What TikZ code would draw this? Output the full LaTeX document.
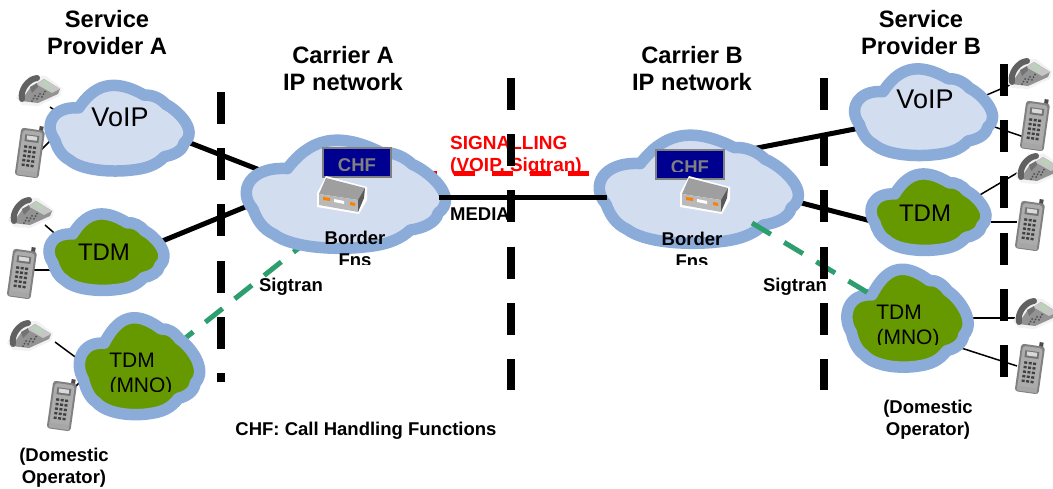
\documentclass[tikz,border=0pt]{standalone}
\usepackage{fontspec}
\setmainfont{Liberation Sans}
\definecolor{cloudedge}{HTML}{8BABD9}
\definecolor{cloudlight}{HTML}{D3DDF0}
\definecolor{cloudgreen}{HTML}{669900}
\definecolor{sigred}{HTML}{FF0000}
\definecolor{siggreen}{HTML}{2E9E6E}
\definecolor{chfblue}{HTML}{000090}
\tikzset{
  x=1pt,y=-1pt,
  cloudpic/.pic={
    \path[draw=cloudedge,line width=11.5pt,fill=#1,line join=round]
      (-0.96,0.28)
      .. controls (-1.12,-0.05) and (-1.0,-0.52) .. (-0.60,-0.48)
      .. controls (-0.38,-1.0) and (-0.10,-1.22) .. (0.38,-0.78)
      .. controls (0.5,-0.80) and (0.62,-0.70) .. (0.70,-0.56)
      .. controls (0.85,-0.45) and (1.2,0.05) .. (0.97,0.36)
      .. controls (0.95,0.55) and (0.80,0.65) .. (0.68,0.68)
      .. controls (0.55,0.90) and (0.38,0.97) .. (0.20,1.0)
      .. controls (-0.1,1.06) and (-0.55,1.02) .. (-0.74,0.76)
      .. controls (-0.86,0.66) and (-0.92,0.48) .. cycle;
  },
  deskphone/.pic={
    \fill[white!90!gray] (-22,8) -- (-9,-14) -- (8,-14) -- (24,-2) -- (22,6) -- (0,16) -- (-16,15) -- cycle;
    \fill[gray!85] (-17,11) -- (-8,-2) -- (6,-11) -- (22,-1) -- (20,4) -- (0,13) -- cycle;
    \fill[gray!45] (-2,-6) -- (6,-11) -- (22,-1) -- (14,3) -- cycle;
    \fill[green!25!gray!45] (3,-7) -- (7,-9) -- (14,-4) -- (10,-2) -- cycle;
    \draw[black!62,line width=6pt,line cap=round] (-16,9) .. controls (-18,0) and (-10,-11) .. (-1,-12);
    \fill[black!55] (-8,-3) -- (-1,-7) -- (0,-3) -- (-6,3) -- cycle;
    \foreach \i in {0,1,2} \foreach \j in {0,1,2}
      \fill[black!70] (-3+5*\i-1.5*\j,6-2.2*\i+2.6*\j) circle[radius=1];
  },
  mobilephone/.pic={
    \begin{scope}[rotate=-8]
      \fill[black!70] (6,-27) rectangle (10,-21);
      \fill[black!50,rounded corners=3pt] (-12,-23) rectangle (12,25);
      \fill[gray!65,rounded corners=3pt] (-10,-21) rectangle (10,23);
      \fill[black!55] (-7,-17) rectangle (7,-10);
      \fill[gray!30] (-5,-16) rectangle (5,-12);
      \foreach \i in {0,1,2} \foreach \j in {0,1,2,3,4}
        \fill[black!75] (-6.5+4.5*\i,-6+4.6*\j) rectangle ++(3,2.4);
      \fill[black!35] (-10,19) rectangle (10,24);
    \end{scope}
  },
  routerpic/.pic={
    \fill[white] (-16,-19) -- (25,-8) -- (25,5) -- (17,19) -- (-25,12) -- (-25,-2) -- cycle;
    \fill[gray!75] (-16,-17) -- (23,-7) -- (16,5) -- (-23,-1) -- cycle;
    \fill[gray!55] (-23,-1) -- (16,5) -- (16,17) -- (-23,10) -- cycle;
    \fill[black!65] (23,-7) -- (16,5) -- (16,17) -- (22,3) -- cycle;
    \fill[orange] (-19,2) -- (-12,3) -- (-12,6) -- (-19,5) -- cycle;
    \fill[white] (-8,4) -- (2,6) -- (2,9) -- (-8,7) -- cycle;
    \fill[orange] (8,7) -- (13,8) -- (13,11) -- (8,10) -- cycle;
  },
  cloudnode/.style={inner sep=0pt,minimum size=10pt},
  phonenode/.style={inner sep=0pt,minimum width=30pt,minimum height=30pt},
  thinlink/.style={black,line width=1.5pt},
  thicklink/.style={black,line width=5pt},
  barrier/.style={black,line width=8pt,dash pattern=on 32pt off 24.2pt},
  greenlink/.style={siggreen,line width=5pt,dash pattern=on 22pt off 15.5pt},
  redlink/.style={sigred,line width=5pt,dash pattern=on 21pt off 17pt},
  titletext/.style={font=\fontsize{23.7}{27}\selectfont\bfseries,align=center,inner sep=0pt},
  cloudtext/.style={inner sep=0pt},
  labeltext/.style={font=\fontsize{18.5}{22}\selectfont\bfseries,inner sep=0pt,align=center},
  chfbox/.style={draw=gray,line width=2pt,fill=chfblue,minimum width=68pt,minimum height=29pt,inner sep=0pt},
}
\begin{document}
\begin{tikzpicture}
\useasboundingbox (0,0) rectangle (1053,489);

% anchors of clouds
\node[cloudnode] (vA) at (119,128) {};
\node[cloudnode] (tA) at (106,252) {};
\node[cloudnode] (mA) at (139,366) {};
\node[cloudnode] (cA) at (345,194) {};
\node[cloudnode] (cB) at (698,189) {};
\node[cloudnode] (vB) at (923,112) {};
\node[cloudnode] (tB) at (928,212) {};
\node[cloudnode] (mB) at (907,318) {};

% telephones
\node[phonenode] (dA1) at (38,90) {};
\node[phonenode] (mobA1) at (30,152) {};
\node[phonenode] (dA2) at (30,212) {};
\node[phonenode] (mobA2) at (22,273) {};
\node[phonenode] (dA3) at (29,335) {};
\node[phonenode] (mobA3) at (62,405) {};
\node[phonenode] (dB1) at (1028,73) {};
\node[phonenode] (mobB1) at (1035,125) {};
\node[phonenode] (dB2) at (1037,168) {};
\node[phonenode] (mobB2) at (1030,225) {};
\node[phonenode] (dB3) at (1035,313) {};
\node[phonenode] (mobB3) at (1030,368) {};

% thin access links
\draw[thinlink] ([shift={(12,17)}]dA1.center) -- ([shift={(-59,-14)}]vA.center);
\draw[thinlink] ([shift={(8,1)}]mobA1.center) -- ([shift={(-60,4)}]vA.center);
\draw[thinlink] ([shift={(15,13)}]dA2.center) -- ([shift={(-46,-14)}]tA.center);
\draw[thinlink] ([shift={(10,-3)}]mobA2.center) -- ([shift={(-40,18)}]tA.center);
\draw[thinlink] ([shift={(26,7)}]dA3.center) -- ([shift={(-57,-4)}]mA.center);
\draw[thinlink] ([shift={(8,-13)}]mobA3.center) -- ([shift={(-52,9)}]mA.center);
\draw[thinlink] ([shift={(-18,12)}]dB1.center) -- ([shift={(59,-15)}]vB.center);
\draw[thinlink] ([shift={(-11,12)}]mobB1.center) -- ([shift={(60,11)}]vB.center);
\draw[thinlink] ([shift={(-20,5)}]dB2.center) -- ([shift={(45,-13)}]tB.center);
\draw[thinlink] ([shift={(-13,-3)}]mobB2.center) -- ([shift={(63,10)}]tB.center);
\draw[thinlink] ([shift={(-18,5)}]dB3.center) -- ([shift={(53,0)}]mB.center);
\draw[thinlink] ([shift={(-13,-2)}]mobB3.center) -- ([shift={(48,28)}]mB.center);

% links that pass under the clouds
\draw[thicklink] ([shift={(61,11)}]vA.center) -- ([shift={(-70,-18)}]cA.center);
\draw[thicklink] ([shift={(49,-8)}]tA.center) -- ([shift={(-90,9)}]cA.center);
\draw[thicklink] ([shift={(54,-40)}]cB.center) -- ([shift={(-63,16)}]vB.center);
\draw[thicklink] ([shift={(92,11)}]cB.center) -- ([shift={(-53,10)}]tB.center);
\draw[greenlink] ([shift={(37,-20.5)}]mA.center) -- ([shift={(-45,53)}]cA.center);
\draw[redlink] ([shift={(71,-20)}]cA.center) -- ([shift={(-108,-15)}]cB.center);

% clouds
\pic[xscale=67,yscale=42] at (vA) {cloudpic=cloudlight};
\pic[xscale=55.5,yscale=37.5] at (tA) {cloudpic=cloudgreen};
\pic[xscale=58,yscale=47.5] at (mA) {cloudpic=cloudgreen};
\pic[xscale=96,yscale=53] at (cA) {cloudpic=cloudlight};
\pic[xscale=96,yscale=53] at (cB) {cloudpic=cloudlight};
\pic[xscale=66.5,yscale=42.5] at (vB) {cloudpic=cloudlight};
\pic[xscale=55.5,yscale=37.5] at (tB) {cloudpic=cloudgreen};
\pic[xscale=58.5,yscale=48] at (mB) {cloudpic=cloudgreen};

% links on top of the clouds
\draw[thicklink] ([shift={(94,4)}]cA.center) -- ([shift={(-91,9)}]cB.center);
\draw[greenlink] ([shift={(54,34)}]cB.center) -- ([shift={(-37,-24)}]mB.center);

% telephones drawn
\foreach \n in {dA1,dA2,dA3,dB1,dB2,dB3} \pic at (\n) {deskphone};
\foreach \n in {mobA1,mobA2,mobA3,mobB1,mobB2,mobB3} \pic at (\n) {mobilephone};

% call handling boxes and border devices
\node[chfbox] (chfA) at (357,162.5) {};
\node[chfbox] (chfB) at (690,164.5) {};
\begin{scope}
  \clip (324,149) rectangle (390,170.5);
  \node[labeltext,text=gray] (chfAt) at (357,165) {CHF};
\end{scope}
\begin{scope}
  \clip (656,151) rectangle (724,171.5);
  \node[labeltext,text=gray] (chfBt) at (690,167) {CHF};
\end{scope}
\node[phonenode] (brA) at (342,195) {};
\node[phonenode] (brB) at (705,195) {};
\pic at (brA) {routerpic};
\pic at (brB) {routerpic};

% cloud texts
\node[cloudtext,font=\fontsize{27}{30}\selectfont] (tvA) at (120,117) {VoIP};
\node[cloudtext,font=\fontsize{24}{28}\selectfont] (ttA) at (104,252) {TDM};
\node[cloudtext,font=\fontsize{27}{30}\selectfont] (tvB) at (925,99) {VoIP};
\node[cloudtext,font=\fontsize{24}{28}\selectfont] (ttB) at (925,213) {TDM};
\node[cloudtext,font=\fontsize{21}{25}\selectfont] (tmA1) at (132,360) {TDM};
\node[cloudtext,font=\fontsize{21}{25}\selectfont] (tmB1) at (899,312) {TDM};
\begin{scope}
  \clip (100,370) rectangle (180,391.5);
  \node[cloudtext,font=\fontsize{21}{25}\selectfont] (tmA2) at (141,387) {(MNO)};
\end{scope}
\begin{scope}
  \clip (860,322) rectangle (950,344);
  \node[cloudtext,font=\fontsize{21}{25}\selectfont] (tmB2) at (908,339) {(MNO)};
\end{scope}
\node[labeltext] (bA) at (355,238) {Border};
\node[labeltext] (bB) at (692,239) {Border};
\begin{scope}
  \clip (320,250) rectangle (390,264.5);
  \node[labeltext] (fA) at (355,260) {Fns};
\end{scope}
\begin{scope}
  \clip (660,250) rectangle (725,265);
  \node[labeltext] (fB) at (692,261) {Fns};
\end{scope}

% free labels
\node[titletext] (spA) at (107,32.5) {Service\\Provider A};
\node[titletext] (spB) at (921,32.5) {Service\\Provider B};
\node[titletext] (carA) at (343,69) {Carrier A\\IP network};
\node[titletext] (carB) at (692,69) {Carrier B\\IP network};
\node[labeltext,font=\fontsize{19}{22}\selectfont\bfseries,text=sigred,align=left,anchor=west] (sig) at (450,155.5) {SIGNALLING\\(VOIP, Sigtran)};
\node[labeltext,anchor=west] (media) at (450,214) {MEDIA};
\node[labeltext] (sigtA) at (291,287) {Sigtran};
\node[labeltext] (sigtB) at (795,287) {Sigtran};
\node[labeltext] (chfnote) at (366,431) {CHF: Call Handling Functions};
\node[labeltext] (domA) at (64,468) {(Domestic\\Operator)};
\node[labeltext] (domB) at (928,420) {(Domestic\\Operator)};

% demarcation barriers
\coordinate (b1t) at (220.5,92);
\coordinate (b1b) at (220.5,382);
\coordinate (b2t) at (511,78);
\coordinate (b2b) at (511,390);
\coordinate (b3t) at (824,78);
\coordinate (b3b) at (824,390);
\coordinate (b4t) at (1004,64);
\coordinate (b4b) at (1004,377);
\draw[barrier] (b1t) -- (b1b);
\draw[barrier] (b2t) -- (b2b);
\draw[barrier] (b3t) -- (b3b);
\draw[barrier] (b4t) -- (b4b);
\end{tikzpicture}
\end{document}
